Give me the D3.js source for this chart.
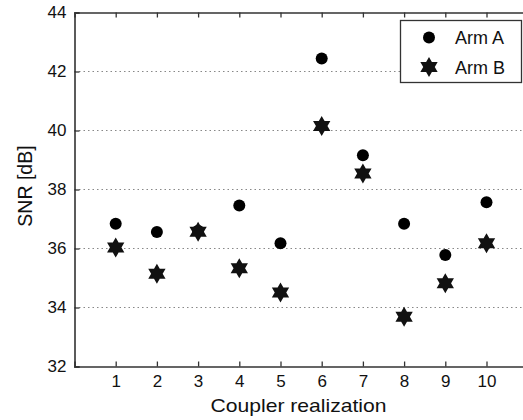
<!DOCTYPE html>
<html>
<head>
<meta charset="utf-8">
<script src="https://cdn.jsdelivr.net/npm/d3@7"></script>
<style>
  body { margin: 0; background: #fff; }
  text { font-family: "Liberation Sans", Arial, sans-serif; fill: #111; }
</style>
</head>
<body>
<div id="chart"></div>
<script>
// data
const realizations = [1, 2, 3, 4, 5, 6, 7, 8, 9, 10];
const armA = [36.84, 36.56, 36.6, 37.46, 36.18, 42.44, 39.16, 36.84, 35.78, 37.57];
const armB = [36.03, 35.14, 36.57, 35.33, 34.51, 40.15, 38.54, 33.69, 34.82, 36.18];
const yTicks = [32, 34, 36, 38, 40, 42, 44];
const seriesNames = ["Arm A", "Arm B"];

const w = 523, h = 420;
const padLeft = 74.5, padTop = 12.5, padBottom = 366.5;

const svg = d3.select("#chart").append("svg")
  .attr("width", w).attr("height", h);

const x = d3.scaleLinear().domain([0, 11]).range([padLeft, padLeft + 11 * 41.2]);
const y = d3.scaleLinear().domain([32, 44]).range([padBottom, padTop]);

// dotted horizontal grid
svg.append("g").selectAll("line")
  .data(yTicks.filter(d => d > 32 && d < 44))
  .enter().append("line")
  .attr("x1", padLeft).attr("x2", w)
  .attr("y1", d => y(d)).attr("y2", d => y(d))
  .attr("stroke", "#888").attr("stroke-width", 1.2)
  .attr("stroke-dasharray", "1.5,3");

// axes with inward ticks
const xAxis = d3.axisBottom(x).tickValues(realizations).tickSize(-5).tickPadding(8.5).tickFormat(d3.format("d"));
const xTop = d3.axisTop(x).tickValues(realizations).tickSize(-5).tickFormat("");
const yAxis = d3.axisLeft(y).tickValues(yTicks).tickSize(-5).tickPadding(8);

function styleAxis(g) {
  g.select(".domain").attr("stroke", "#333").attr("stroke-width", 1.6);
  g.selectAll(".tick line").attr("stroke", "#333").attr("stroke-width", 1.3);
  g.selectAll(".tick text").style("font-size", "17px").style("font-family", "Liberation Sans, Arial, sans-serif").attr("fill", "#111");
}

svg.append("g").attr("transform", "translate(0," + padBottom + ")").call(xAxis).call(styleAxis);
svg.append("g").attr("transform", "translate(0," + padTop + ")").call(xTop).call(styleAxis);
svg.append("g").attr("transform", "translate(" + padLeft + ",0)").call(yAxis).call(styleAxis);

// hexagram marker
function hexagram(R) {
  const r = R / Math.sqrt(3);
  const pts = [];
  for (let i = 0; i < 12; i++) {
    const a = -Math.PI / 2 + i * Math.PI / 6;
    const rad = i % 2 === 0 ? R : r;
    pts.push([rad * Math.cos(a), rad * Math.sin(a)]);
  }
  return "M" + pts.map(p => p[0].toFixed(2) + "," + p[1].toFixed(2)).join("L") + "Z";
}
const starPath = hexagram(10);

// Arm A circles
svg.append("g").selectAll("circle")
  .data(realizations)
  .enter().append("circle")
  .attr("cx", (d) => x(d))
  .attr("cy", (d, i) => y(armA[i]))
  .attr("r", 6)
  .attr("fill", "#000");

// Arm B hexagrams
svg.append("g").selectAll("path")
  .data(realizations)
  .enter().append("path")
  .attr("d", starPath)
  .attr("transform", (d, i) => "translate(" + x(d) + "," + y(armB[i]) + ")")
  .attr("fill", "#111");

// axis labels
svg.append("text")
  .attr("x", 298.5).attr("y", 412)
  .style("text-anchor", "middle").style("font-size", "19px")
  .attr("textLength", 176).attr("lengthAdjust", "spacingAndGlyphs")
  .text("Coupler realization");

svg.append("text")
  .attr("transform", "translate(31.5,186) rotate(-90)")
  .style("text-anchor", "middle").style("font-size", "19.5px")
  .text("SNR [dB]");

// legend
const legend = svg.append("g");
legend.append("rect")
  .attr("x", 400.5).attr("y", 20.5).attr("width", 121).attr("height", 62)
  .attr("fill", "#fff").attr("stroke", "#333").attr("stroke-width", 1.3);
legend.append("circle").attr("cx", 429).attr("cy", 37.5).attr("r", 6).attr("fill", "#000");
legend.append("path").attr("d", starPath).attr("transform", "translate(429,67)").attr("fill", "#111");
legend.selectAll(".lt")
  .data(seriesNames)
  .enter().append("text")
  .attr("class", "lt")
  .attr("x", 455).attr("y", (d, i) => 44 + i * 30)
  .style("font-size", "18px")
  .text(d => d);
</script>
</body>
</html>
